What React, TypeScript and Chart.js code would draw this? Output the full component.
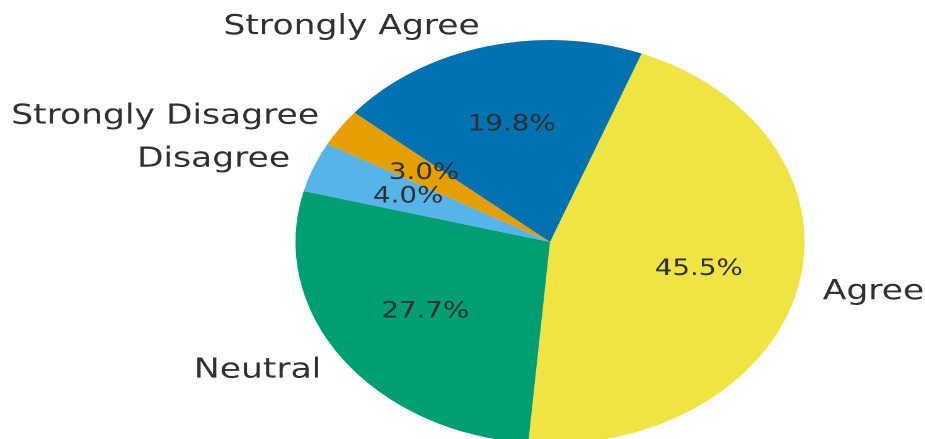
import React, { useEffect, useRef } from "react";
import { Chart, registerables } from "chart.js";

Chart.register(...registerables);

const categories = ["Agree", "Neutral", "Disagree", "Strongly Disagree", "Strongly Agree"];
const shares = [45.5, 27.7, 4.0, 3.0, 19.8];
const pctLabels = ["45.5%", "27.7%", "4.0%", "3.0%", "19.8%"];
const sliceColors = ["#F0E442", "#009E73", "#56B4E9", "#E69F00", "#0072B2"];

const STRETCH = 1.26;
const CANVAS_W = 734;
const CANVAS_H = 460;

const labelPlugin = {
  id: "pieLabels",
  afterDatasetsDraw(chart: any) {
    const ctx = chart.ctx;
    const meta = chart.getDatasetMeta(0);
    ctx.save();
    meta.data.forEach((arc: any, i: number) => {
      const p = arc.getProps(["x", "y", "startAngle", "endAngle", "outerRadius"], true);
      const mid = (p.startAngle + p.endAngle) / 2;
      const cx = Math.cos(mid);
      const cy = Math.sin(mid);
      // outer category label
      ctx.font = "27.4px 'DejaVu Sans'";
      ctx.fillStyle = "#303030";
      ctx.textBaseline = "middle";
      ctx.textAlign = cx >= 0 ? "left" : "right";
      ctx.fillText(categories[i], p.x + cx * p.outerRadius * 1.1, p.y + cy * p.outerRadius * 1.1);
      // percentage label
      ctx.font = "22px 'DejaVu Sans'";
      ctx.fillStyle = "#303030";
      ctx.textAlign = "center";
      ctx.fillText(pctLabels[i], p.x + cx * p.outerRadius * 0.6, p.y + cy * p.outerRadius * 0.6);
    });
    ctx.restore();
  },
};

export default function App() {
  const ref = useRef<HTMLCanvasElement | null>(null);
  useEffect(() => {
    if (!ref.current) return;
    const chart = new Chart(ref.current, {
      type: "pie",
      data: {
        labels: categories,
        datasets: [
          {
            data: shares,
            backgroundColor: sliceColors,
            borderWidth: 0,
          },
        ],
      },
      options: {
        responsive: false,
        animation: false,
        devicePixelRatio: 2,
        rotation: 21.1,
        radius: 202,
        layout: { padding: { top: 40, bottom: 16, left: 139, right: 0 } },
        plugins: {
          legend: { display: false },
          tooltip: { enabled: false },
        },
      } as any,
      plugins: [labelPlugin],
    });
    return () => chart.destroy();
  }, []);

  return (
    <div
      style={{
        position: "fixed",
        left: 0,
        top: 0,
        width: 925,
        height: 439,
        overflow: "hidden",
        background: "#ffffff",
      }}
    >
      <div
        style={{
          width: CANVAS_W,
          height: CANVAS_H,
          transform: `scaleX(${STRETCH})`,
          transformOrigin: "0 0",
        }}
      >
        <canvas ref={ref} width={CANVAS_W} height={CANVAS_H} />
      </div>
    </div>
  );
}
